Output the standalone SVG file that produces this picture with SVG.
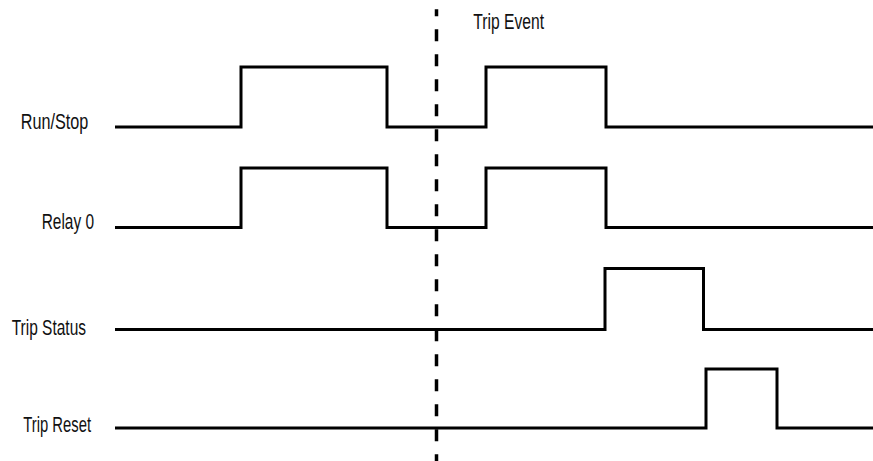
<svg xmlns="http://www.w3.org/2000/svg" width="873" height="461" viewBox="0 0 873 461">
<style>
.lbl{font-family:"Liberation Sans Narrow","Liberation Sans",Arial,sans-serif;font-size:21.5px;fill:#111}
.wave{fill:none;stroke:#000;stroke-width:3;stroke-linejoin:miter;stroke-linecap:butt}
.evt{fill:none;stroke:#000;stroke-width:3.5;stroke-dasharray:12 13;stroke-dashoffset:5}
</style>
<rect width="873" height="461" fill="#fff"/>
<g id="run-stop">
<text class="lbl" x="20.7" y="128.5" textLength="67.6" lengthAdjust="spacingAndGlyphs">Run/Stop</text>
<path class="wave" d="M115,127 H241 V67 H387 V127 H486 V67 H606 V127 H873"/>
</g>
<g id="relay-0">
<text class="lbl" x="41.7" y="229" textLength="52.3" lengthAdjust="spacingAndGlyphs">Relay 0</text>
<path class="wave" d="M115,227.5 H241 V168 H387 V227.5 H486 V168 H606 V227.5 H873"/>
</g>
<g id="trip-status">
<text class="lbl" x="11.7" y="335" textLength="74.3" lengthAdjust="spacingAndGlyphs">Trip Status</text>
<path class="wave" d="M115,329.5 H605 V268.5 H703.5 V329.5 H873"/>
</g>
<g id="trip-reset">
<text class="lbl" x="23.3" y="431.5" textLength="67.7" lengthAdjust="spacingAndGlyphs">Trip Reset</text>
<path class="wave" d="M115,428 H706 V369 H777 V428 H873"/>
</g>
<g id="trip-event">
<text class="lbl" x="473.3" y="28.5" textLength="70.7" lengthAdjust="spacingAndGlyphs">Trip Event</text>
</g>
<g id="connectors">
<line class="evt" x1="436.5" y1="9.3" x2="436.5" y2="461"/>
</g>
</svg>
